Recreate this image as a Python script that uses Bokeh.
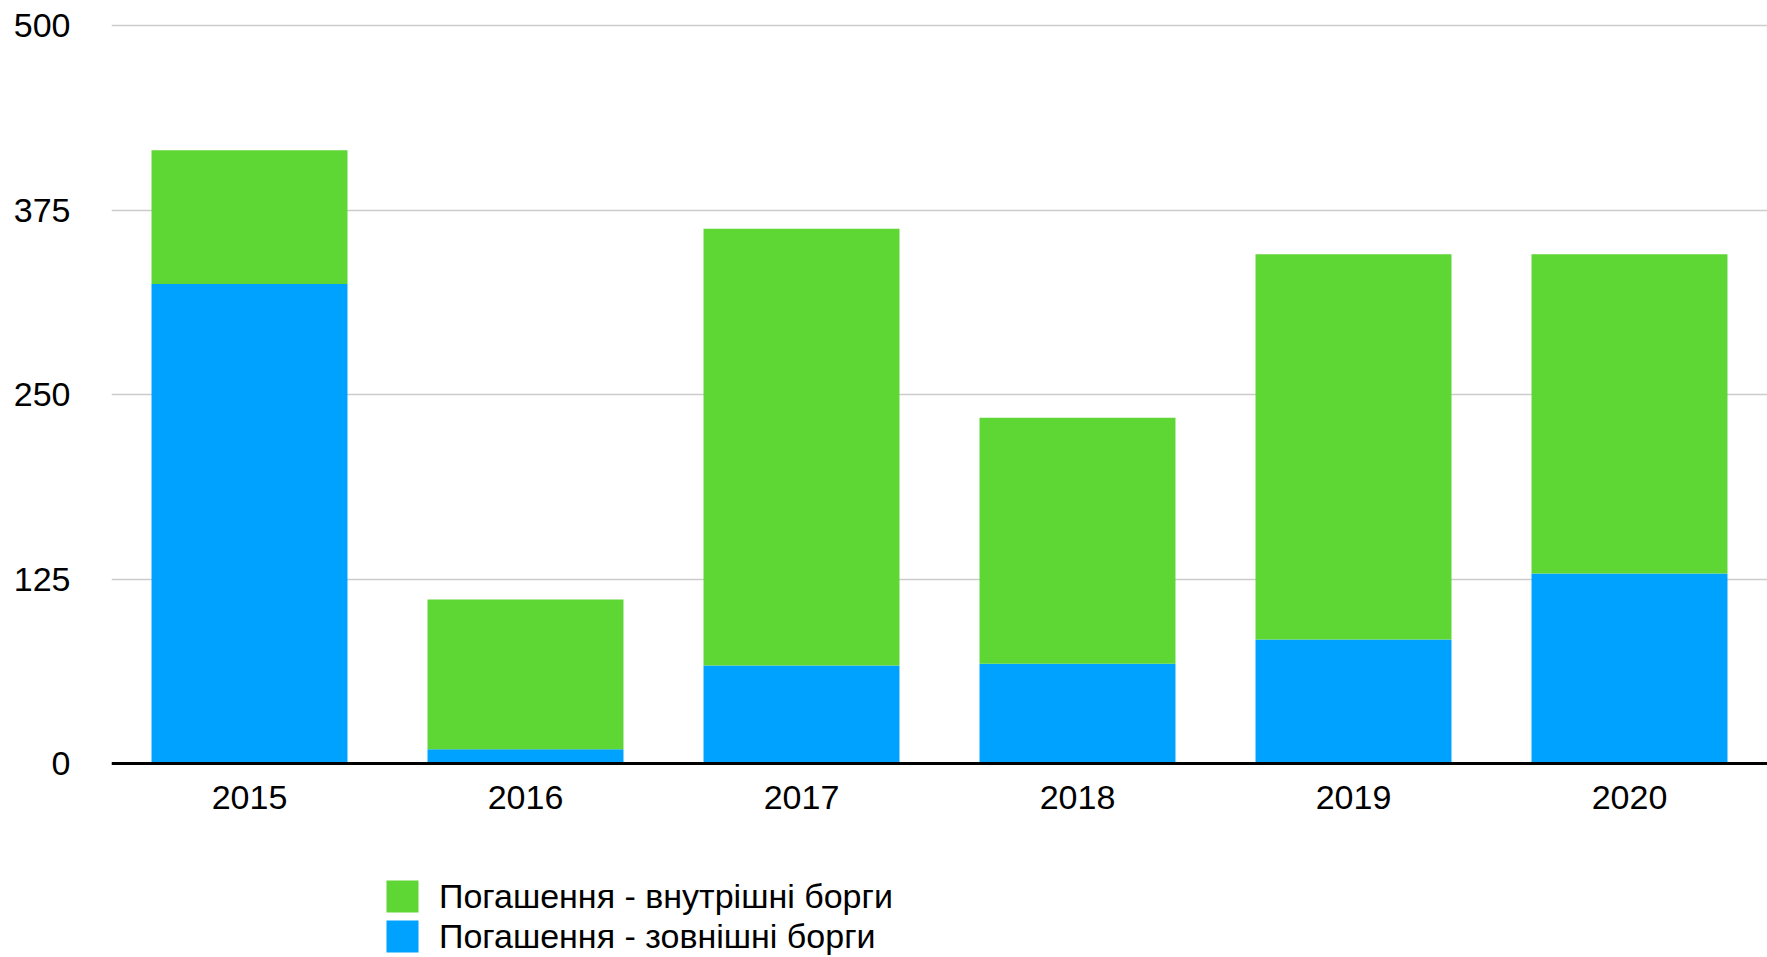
from bokeh.plotting import figure
from bokeh.models import ColumnDataSource, FactorRange, Range1d, FixedTicker, Legend, LegendItem
from bokeh.embed import file_html
from bokeh.resources import INLINE

# ---- data ----
years = ["2015", "2016", "2017", "2018", "2019", "2020"]
external_debt = [325.1, 9.7, 66.4, 67.6, 84.1, 128.8]     # Погашення - зовнішні борги
internal_debt = [90.6, 101.5, 296.0, 166.7, 261.1, 216.4]  # Погашення - внутрішні борги
y_ticks = [0, 125, 250, 375, 500]
label_internal = "Погашення - внутрішні борги"
label_external = "Погашення - зовнішні борги"

GREEN = "#5ED634"
BLUE = "#00A2FF"
FONT = "Liberation Sans"

source = ColumnDataSource(dict(years=years, external=external_debt, internal=internal_debt))

# frame spans the whole height; the value axis 0 sits at the category axis line,
# leaving room underneath for the category labels and the legend
p = figure(
    x_range=FactorRange(factors=years, range_padding=0),
    y_range=Range1d(-131.5, 507.7),
    width=1767, height=957,
    output_backend="svg", toolbar_location=None,
    min_border_left=111, min_border_right=0,
    min_border_top=14, min_border_bottom=0,
)

rs = p.vbar_stack(["external", "internal"], x="years", width=0.71,
                  fill_color=[BLUE, GREEN], line_color=None, source=source)

legend = Legend(
    items=[LegendItem(label=label_internal, renderers=[rs[1]]),
           LegendItem(label=label_external, renderers=[rs[0]])],
    location=(271, 1), orientation="vertical",
    border_line_color=None, background_fill_alpha=0,
    padding=0, margin=0, spacing=-1,
    glyph_width=40, glyph_height=40, label_height=32, label_standoff=17,
    label_text_font_size="34px", label_text_font=FONT, label_text_color="black",
)
p.add_layout(legend, "center")

p.outline_line_color = None
p.xgrid.grid_line_color = None
p.ygrid.grid_line_color = "#cccccc"
p.ygrid.grid_line_width = 1.5

p.xaxis.fixed_location = 0
p.xaxis.axis_line_color = "black"
p.xaxis.axis_line_width = 3
p.xaxis.major_tick_line_color = None
p.xaxis.minor_tick_line_color = None
p.xaxis.major_label_text_font_size = "34px"
p.xaxis.major_label_text_font = FONT
p.xaxis.major_label_text_color = "black"
p.xaxis.major_label_standoff = 16

p.yaxis.ticker = FixedTicker(ticks=y_ticks)
p.yaxis.axis_line_color = None
p.yaxis.major_tick_line_color = None
p.yaxis.minor_tick_line_color = None
p.yaxis.major_label_text_font_size = "34px"
p.yaxis.major_label_text_font = FONT
p.yaxis.major_label_text_color = "black"
p.yaxis.major_label_standoff = 35

open("out.html", "w").write(file_html(p, INLINE))
